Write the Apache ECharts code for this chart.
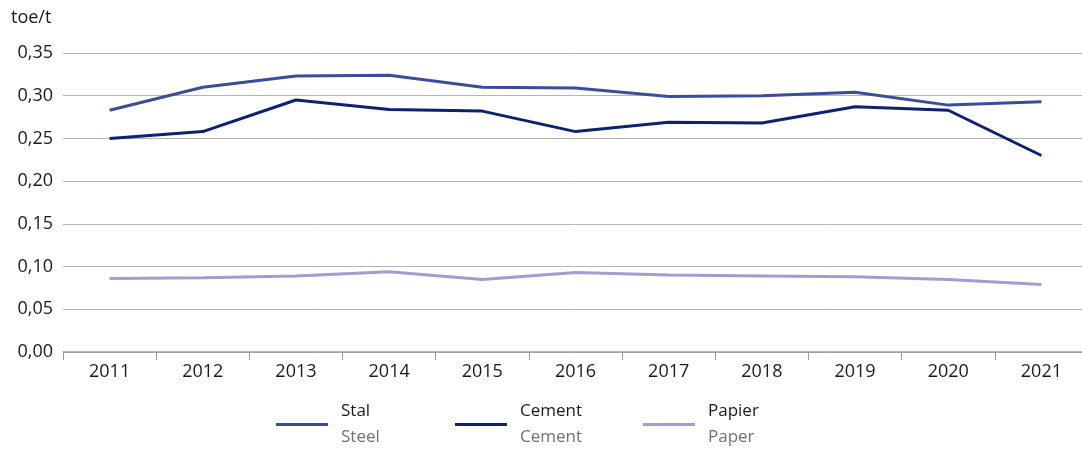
<!DOCTYPE html>
<html>
<head>
<meta charset="utf-8">
<script src="https://cdn.jsdelivr.net/npm/echarts@6/dist/echarts.min.js"></script>
<style>
  html, body { margin: 0; padding: 0; background: #fff; overflow: hidden; }
  #chart { width: 1088px; height: 451px; }
</style>
</head>
<body>
<div id="chart"></div>
<script>
var years = ['2011', '2012', '2013', '2014', '2015', '2016', '2017', '2018', '2019', '2020', '2021'];
var steel = [0.283, 0.310, 0.323, 0.324, 0.310, 0.309, 0.299, 0.300, 0.304, 0.289, 0.293];
var cement = [0.250, 0.258, 0.295, 0.284, 0.282, 0.258, 0.269, 0.268, 0.287, 0.283, 0.230];
var paper = [0.086, 0.087, 0.089, 0.094, 0.085, 0.093, 0.090, 0.089, 0.088, 0.085, 0.079];
var names = [['Stal', 'Steel'], ['Cement', 'Cement'], ['Papier', 'Paper']];
var colors = ['#3b4c98', '#0b2272', '#9f9ed0'];

var font = '"Open Sans", "Noto Sans", sans-serif';

var myChart = echarts.init(document.getElementById('chart'));

var legendLeft = [276, 455, 643];
var legends = names.map(function (n, i) {
    return {
        left: legendLeft[i],
        top: 403,
        padding: 0,
        orient: 'horizontal',
        icon: 'rect',
        itemWidth: 52,
        itemHeight: 3,
        itemGap: 13,
        selectedMode: false,
        data: [n[0]],
        formatter: function () {
            return '{a|' + n[0] + '}\n{b|' + n[1] + '}';
        },
        textStyle: {
            fontFamily: font,
            padding: [0, 0, 0, 8],
            rich: {
                a: { fontSize: 17, color: '#1a1a1a', lineHeight: 26, fontFamily: font },
                b: { fontSize: 17, color: '#707070', lineHeight: 26, fontFamily: font }
            }
        }
    };
});

var series = [steel, cement, paper].map(function (d, i) {
    return {
        name: names[i][0],
        type: 'line',
        data: d,
        symbol: 'none',
        lineStyle: { width: 3, color: colors[i] },
        itemStyle: { color: colors[i] }
    };
});

var option = {
    animation: false,
    title: {
        text: 'toe/t',
        left: 11,
        top: 9,
        padding: 0,
        textStyle: { fontFamily: font, fontSize: 18, fontWeight: 'normal', color: '#1a1a1a' }
    },
    legend: legends,
    grid: { left: 63, right: 0, top: 53, bottom: 99, containLabel: false },
    xAxis: {
        type: 'category',
        data: years,
        boundaryGap: true,
        axisLine: { lineStyle: { color: '#9a9a9a', width: 1.5 } },
        axisTick: { show: true, length: 8, lineStyle: { color: '#9a9a9a' } },
        axisLabel: { fontFamily: font, fontSize: 18, color: '#1a1a1a', margin: 11 }
    },
    yAxis: {
        type: 'value',
        min: 0,
        max: 0.35,
        interval: 0.05,
        axisLine: { show: false },
        axisTick: { show: false },
        splitLine: { lineStyle: { color: '#b4b4b4', width: 1 } },
        axisLabel: {
            fontFamily: font,
            fontSize: 18,
            color: '#1a1a1a',
            margin: 10,
            formatter: function (v) { return v.toFixed(2).replace('.', ','); }
        }
    },
    series: series
};
option && myChart.setOption(option);
</script>
</body>
</html>
